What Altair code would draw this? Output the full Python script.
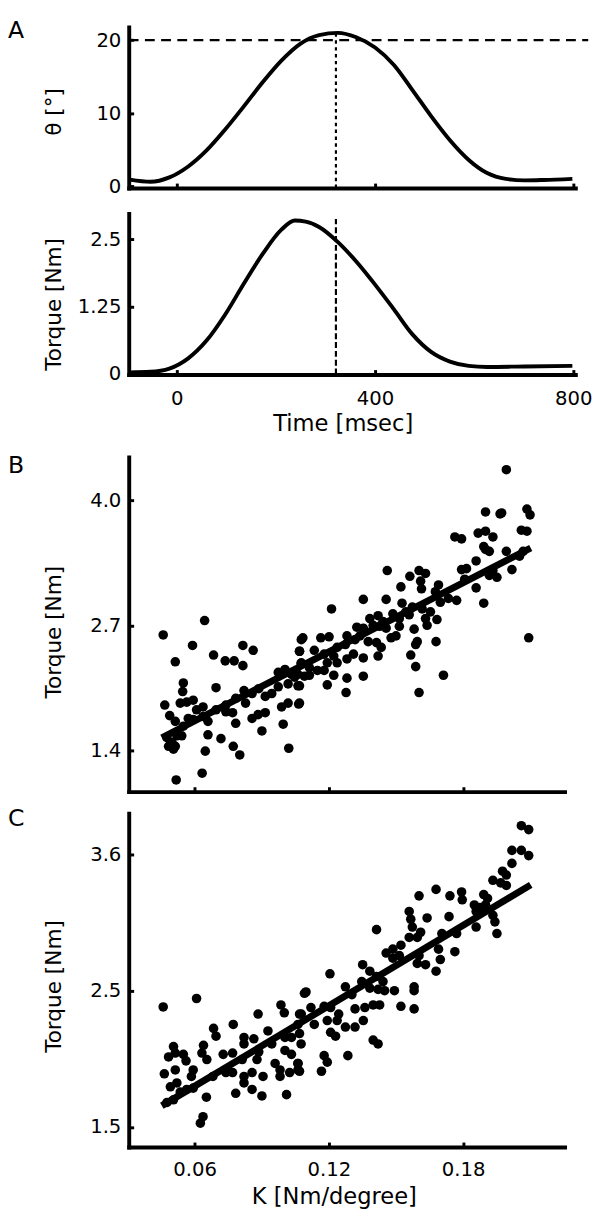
import altair as alt
import pandas as pd

FONT = "DejaVu Sans"
INWARD = {"expr": "-5"}

# ---------------- Panel A : joint angle and torque over time ----------------
theta_time = [-95, -53, -15, 23, 60, 98, 136, 174, 211, 249, 287, 325, 362, 400,
              438, 475, 513, 551, 589, 626, 664, 702, 740, 798]
theta_deg = [0.9, 0.6, 1.2, 2.7, 4.9, 7.8, 11.0, 14.3, 17.2, 19.5, 20.7, 21.0, 20.4, 19.0,
             16.6, 13.2, 9.6, 6.3, 3.6, 1.8, 1.0, 0.8, 0.85, 1.0]

torque_time = [-95, -53, -15, 23, 60, 98, 136, 174, 211, 238, 260, 287, 325, 362,
               400, 438, 475, 513, 551, 589, 626, 702, 798]
torque_nm = [0.03, 0.04, 0.10, 0.29, 0.62, 1.11, 1.69, 2.24, 2.68, 2.85, 2.83, 2.73, 2.45, 2.09,
             1.66, 1.20, 0.74, 0.41, 0.23, 0.15, 0.13, 0.14, 0.15]

target_angle = 20
target_span = [-97, 830]
event_time = 321
event_theta_span = [-0.25, 21.0]
event_torque_span = [-0.01, 2.88]

# ---------------- Panel B ----------------
b_k = [0.0460, 0.0645, 0.0591, 0.0514, 0.0685, 0.0737, 0.0777, 0.0816, 0.0816, 0.0862,
       0.0550, 0.0547, 0.0696, 0.0467, 0.0536, 0.0565, 0.0594, 0.0638, 0.0609, 0.0489,
       0.0514, 0.0572, 0.0660, 0.0477, 0.0499, 0.0521, 0.0543, 0.0506, 0.0484, 0.0514,
       0.0660, 0.0718, 0.0773, 0.0802, 0.0648, 0.0518, 0.0634, 0.0784, 0.0740, 0.0770,
       0.0821, 0.0828, 0.0857, 0.0884, 0.0916, 0.0901, 0.0996, 0.1021, 0.0857, 0.0887,
       0.0916, 0.0945, 0.0974, 0.0974, 0.1004, 0.1033, 0.0989, 0.1018, 0.1069, 0.1077,
       0.1069, 0.1077, 0.1062, 0.0638, 0.0696, 0.0740, 0.0784, 0.0594, 0.0550, 0.1018,
       0.1047,
       0.1763, 0.1793, 0.1461, 0.1562, 0.1603, 0.1632, 0.1610, 0.1522, 0.1614, 0.1690,
       0.1676, 0.1698, 0.1734, 0.1771, 0.1793, 0.1807, 0.1354, 0.1456, 0.1527, 0.1212,
       0.1573, 0.1617, 0.1654, 0.1559, 0.1383, 0.1420, 0.1442, 0.1486, 0.1515, 0.1544,
       0.1632, 0.1639, 0.1683, 0.1325, 0.1354, 0.1398, 0.1427, 0.1456, 0.1515, 0.1581,
       0.1281, 0.1317, 0.1339, 0.1376, 0.1413, 0.1434, 0.1478, 0.1500, 0.1595, 0.1588,
       0.1679, 0.1084, 0.1069, 0.1135, 0.1164, 0.1201, 0.1237, 0.1274, 0.1179, 0.1222,
       0.1310, 0.1354, 0.1420, 0.1566, 0.1588, 0.1076, 0.1113, 0.1149, 0.1193, 0.1237,
       0.1281, 0.1179, 0.1222, 0.1281, 0.1354, 0.1062, 0.1091, 0.1069, 0.1113, 0.1193,
       0.1277, 0.1603, 0.1712, 0.1065,
       0.1900, 0.1993, 0.1965, 0.1972, 0.2085, 0.2099, 0.1867, 0.1900, 0.1933, 0.2060,
       0.2085, 0.1892, 0.1900, 0.1917, 0.1993, 0.2052, 0.2068, 0.1858, 0.1933, 0.1951,
       0.1917, 0.2018, 0.1858, 0.1892, 0.2093, 0.1815]
b_tq = [2.60, 2.75, 2.49, 2.32, 2.39, 2.33, 2.33, 2.28, 2.49, 2.44,
        2.10, 2.01, 2.05, 1.87, 1.89, 1.90, 1.92, 1.85, 1.82, 1.76,
        1.70, 1.73, 1.70, 1.53, 1.48, 1.55, 1.55, 1.41, 1.44, 1.44,
        1.56, 1.52, 1.44, 1.35, 1.39, 1.09, 1.16, 1.68, 1.80, 1.79,
        2.02, 1.89, 1.73, 1.77, 1.79, 1.60, 1.67, 1.42, 1.99, 2.04,
        1.96, 1.99, 2.06, 2.21, 2.24, 2.19, 1.85, 1.89, 1.89, 2.55,
        2.43, 2.31, 2.07, 1.75, 1.82, 1.87, 1.94, 1.72, 1.65, 2.09,
        2.16,
        3.62, 3.60, 3.27, 3.21, 3.27, 3.24, 3.16, 3.10, 3.08, 3.12,
        3.05, 2.94, 2.98, 2.96, 3.28, 3.18, 2.97, 2.97, 2.93, 2.87,
        2.89, 2.87, 2.84, 2.81, 2.77, 2.80, 2.74, 2.82, 2.77, 2.84,
        2.77, 2.70, 2.76, 2.68, 2.67, 2.70, 2.69, 2.67, 2.69, 2.66,
        2.59, 2.55, 2.59, 2.53, 2.52, 2.47, 2.57, 2.59, 2.53, 2.50,
        2.53, 2.57, 2.43, 2.44, 2.57, 2.58, 2.47, 2.50, 2.40, 2.38,
        2.40, 2.36, 2.38, 2.39, 2.27, 2.30, 2.26, 2.23, 2.31, 2.31,
        2.35, 2.23, 2.18, 2.15, 2.17, 2.19, 2.17, 2.07, 2.18, 2.08,
        2.00, 2.00, 2.18, 1.88,
        3.88, 4.32, 3.86, 3.87, 3.91, 3.85, 3.66, 3.68, 3.62, 3.69,
        3.68, 3.52, 3.49, 3.47, 3.47, 3.42, 3.47, 3.37, 3.27, 3.20,
        3.22, 3.28, 3.09, 2.93, 2.57, 3.29]
b_fit_k = [0.0454, 0.2102]
b_fit_tq = [1.53, 3.505]

# ---------------- Panel C ----------------
c_k = [0.0460, 0.0609, 0.1091, 0.0986, 0.1001, 0.0884, 0.0773, 0.0685, 0.0696, 0.0640,
       0.0633, 0.0821, 0.0821, 0.0865, 0.0928, 0.0506, 0.0514, 0.0484, 0.0550, 0.0562,
       0.0465, 0.0514, 0.0492, 0.0521, 0.0594, 0.0586, 0.0655, 0.0728, 0.0770, 0.0740,
       0.0770, 0.0653, 0.0638, 0.0626, 0.0784, 0.0821, 0.0821, 0.0857, 0.0901, 0.0857,
       0.0906, 0.0879, 0.0960, 0.0982, 0.0982, 0.1011, 0.1004, 0.1033, 0.1062, 0.1025,
       0.1062, 0.1033, 0.1062, 0.1077, 0.0477, 0.0506, 0.0536, 0.0565, 0.0594, 0.0682,
       0.0740, 0.0813, 0.0887, 0.0945, 0.1004,
       0.1679, 0.1603, 0.1741, 0.1793, 0.1796, 0.1559, 0.1566, 0.1639, 0.1737, 0.1413,
       0.1573, 0.1610, 0.1559, 0.1595, 0.1705, 0.1771, 0.1763, 0.1690, 0.1698, 0.1679,
       0.1603, 0.1595, 0.1632, 0.1522, 0.1486, 0.1456, 0.1486, 0.1515, 0.1351, 0.1205,
       0.1383, 0.1413, 0.1442, 0.1274, 0.1303, 0.1347, 0.1383, 0.1420, 0.1449, 0.1493,
       0.1581, 0.1581, 0.1522, 0.1581, 0.1098, 0.1120, 0.1069, 0.1179, 0.1208, 0.1244,
       0.1317, 0.1361, 0.1135, 0.1193, 0.1237, 0.1317, 0.1354, 0.1398, 0.1427, 0.1069,
       0.1076, 0.1208, 0.1230, 0.1274, 0.1398, 0.1420, 0.1062, 0.1069, 0.1179, 0.1193,
       0.1167, 0.1285,
       0.2060, 0.2093, 0.2018, 0.2060, 0.2093, 0.2018, 0.1976, 0.1993, 0.1933, 0.1968,
       0.1993, 0.1892, 0.1909, 0.1850, 0.1875, 0.1900, 0.1858, 0.1883, 0.1933, 0.1942,
       0.1951, 0.1858]
c_tq = [2.425, 2.49, 2.53, 2.44, 2.38, 2.37, 2.29, 2.26, 2.20, 2.13,
        2.07, 2.19, 2.14, 2.18, 2.24, 2.12, 2.07, 2.04, 2.06, 2.01,
        1.91, 1.94, 1.81, 1.84, 1.94, 1.89, 2.02, 2.06, 2.07, 1.92,
        1.92, 1.73, 1.58, 1.53, 1.76, 1.89, 1.84, 1.79, 1.74, 1.92,
        1.89, 2.02, 1.99, 1.94, 1.89, 1.75, 2.09, 2.06, 1.99, 1.92,
        1.94, 2.19, 2.29, 2.37, 1.69, 1.71, 1.77, 1.79, 1.80, 1.89,
        1.94, 2.02, 2.08, 2.14, 2.19,
        3.33, 3.28, 3.28, 3.31, 3.25, 3.16, 3.10, 3.11, 3.12, 3.02,
        3.04, 3.00, 2.96, 2.96, 2.99, 2.99, 2.85, 2.87, 2.79, 2.70,
        2.82, 2.76, 2.75, 2.90, 2.87, 2.84, 2.80, 2.82, 2.75, 2.68,
        2.70, 2.66, 2.62, 2.58, 2.52, 2.62, 2.57, 2.56, 2.55, 2.55,
        2.58, 2.55, 2.43, 2.41, 2.54, 2.42, 2.37, 2.43, 2.42, 2.37,
        2.41, 2.42, 2.29, 2.32, 2.32, 2.27, 2.32, 2.44, 2.44, 2.22,
        2.14, 2.23, 2.20, 2.27, 2.17, 2.14, 1.99, 1.93, 2.05, 2.00,
        1.93, 2.05,
        3.82, 3.79, 3.63, 3.63, 3.59, 3.53, 3.47, 3.44, 3.40, 3.38,
        3.36, 3.29, 3.26, 3.21, 3.19, 3.21, 3.16, 3.18, 3.13, 3.08,
        2.99, 3.04]
c_fit_k = [0.0454, 0.2102]
c_fit_tq = [1.664, 3.365]

# ---------------- helpers ----------------
one_row = pd.DataFrame({"d": [0]})


def letter(ch, dy):
    return alt.Chart(one_row).mark_text(
        text=ch, align="left", baseline="top", font=FONT, fontSize=24, color="black"
    ).encode(x=alt.value(-123), y=alt.value(dy))


def spacer(h):
    return alt.Chart(one_row).mark_point(opacity=0).encode(
        x=alt.X("d:Q", axis=None), y=alt.Y("d:Q", axis=None)
    ).properties(width=10, height=h)


def y_axis(values, title, title_y, **kw):
    return alt.Axis(values=values, title=title, titleX=-64, titleY=title_y,
                    titleFontSize=22, labelPadding=13, tickSize=INWARD, **kw)


# ---------------- Panel A top ----------------
tscale = alt.Scale(domain=[-97, 804], nice=False, zero=False)
x_top = alt.X("t:Q", scale=tscale,
              axis=alt.Axis(values=[0, 400, 800], labels=False, title=None,
                            tickSize=INWARD))
y_top = alt.Y("v:Q", scale=alt.Scale(domain=[-0.25, 21.8], nice=False, zero=False),
              axis=y_axis([0, 10, 20], "θ [°]", 86, format="d"))

theta_df = pd.DataFrame({"t": theta_time, "v": theta_deg})
target_df = pd.DataFrame({"t": [target_span[0]], "t2": [target_span[1]], "v": [target_angle]})
ev_top_df = pd.DataFrame({"t": [event_time], "v": [event_theta_span[0]], "v2": [event_theta_span[1]]})

a_top = alt.layer(
    alt.Chart(target_df).mark_rule(color="black", strokeWidth=2.3, strokeDash=[10, 6.5]).encode(
        x=x_top, x2=alt.X2("t2"), y=y_top),
    alt.Chart(ev_top_df).mark_rule(color="black", strokeWidth=2.2, strokeDash=[3.5, 3.5]).encode(
        x=x_top, y=y_top, y2=alt.Y2("v2")),
    alt.Chart(theta_df).mark_line(color="black", strokeWidth=4, interpolate="monotone").encode(
        x=x_top, y=y_top),
    letter("A", -8),
).properties(width=455, height=164)

# ---------------- Panel A bottom ----------------
x_bot = alt.X("t:Q", scale=tscale,
              axis=alt.Axis(values=[0, 400, 800], format="d", title="Time [msec]",
                            titleX=218, titleY=38.6, titleBaseline="top", titleFontSize=23,
                            labelPadding=20, tickSize=INWARD))
y_bot = alt.Y("v:Q", scale=alt.Scale(domain=[-0.01, 2.98], nice=False, zero=False),
              axis=y_axis([0, 1.25, 2.5], "Torque [Nm]", 92,
                          labelExpr="format(datum.value, '~g')"))

torque_df = pd.DataFrame({"t": torque_time, "v": torque_nm})
ev_bot_df = pd.DataFrame({"t": [event_time], "v": [event_torque_span[0]], "v2": [event_torque_span[1]]})

a_bot = alt.layer(
    alt.Chart(ev_bot_df).mark_rule(color="black", strokeWidth=2.2, strokeDash=[6, 3]).encode(
        x=x_bot, y=y_bot, y2=alt.Y2("v2")),
    alt.Chart(torque_df).mark_line(color="black", strokeWidth=4, interpolate="monotone").encode(
        x=x_bot, y=y_bot),
).properties(width=455, height=164)

# ---------------- Panel B ----------------
kscale = alt.Scale(domain=[0.0306, 0.2253], nice=False, zero=False)
x_b = alt.X("k:Q", scale=kscale,
            axis=alt.Axis(values=[0.06, 0.12, 0.18], labels=False, title=None,
                          tickSize=INWARD))
y_b = alt.Y("tq:Q", scale=alt.Scale(domain=[0.968, 4.453], nice=False, zero=False),
            axis=y_axis([1.4, 2.7, 4.0], "Torque [Nm]", 178, format=".1f"))

b_df = pd.DataFrame({"k": b_k, "tq": b_tq})
b_fit = pd.DataFrame({"k": b_fit_k, "tq": b_fit_tq})

panel_b = alt.layer(
    alt.Chart(b_df).mark_circle(size=95, color="black", opacity=1).encode(x=x_b, y=y_b),
    alt.Chart(b_fit).mark_line(color="black", strokeWidth=7, strokeCap="butt").encode(x=x_b, y=y_b),
    letter("B", -3),
).properties(width=444, height=341)

# ---------------- Panel C ----------------
x_c = alt.X("k:Q", scale=kscale,
            axis=alt.Axis(values=[0.06, 0.12, 0.18], format=".2f", title="K [Nm/degree]",
                          titleX=209, titleY=39.8, titleBaseline="top", titleFontSize=23,
                          labelPadding=17.8, tickSize=INWARD))
y_c = alt.Y("tq:Q", scale=alt.Scale(domain=[1.347, 3.916], nice=False, zero=False),
            axis=y_axis([1.5, 2.55, 3.6], "Torque [Nm]", 176,
                        labelExpr="datum.value > 2 && datum.value < 3 ? '2.5' : format(datum.value, '.1f')"))

c_df = pd.DataFrame({"k": c_k, "tq": c_tq})
c_fit = pd.DataFrame({"k": c_fit_k, "tq": c_fit_tq})

panel_c = alt.layer(
    alt.Chart(c_df).mark_circle(size=95, color="black", opacity=1).encode(x=x_c, y=y_c),
    alt.Chart(c_fit).mark_line(color="black", strokeWidth=7, strokeCap="butt").encode(x=x_c, y=y_c),
    letter("C", -6),
).properties(width=444, height=340)

chart = alt.vconcat(
    a_top, spacer(26), a_bot, spacer(84), panel_b, spacer(22), panel_c,
    spacing=0, bounds="flush",
).properties(padding=0).configure_view(stroke=None).configure_axis(
    grid=False, domainColor="black", domainWidth=4, domainCap="square",
    tickColor="black", tickWidth=3, labelFont=FONT, labelFontSize=20, labelColor="black",
    labelFlush=False, labelOverlap=False,
    titleFont=FONT, titleFontWeight="normal", titleColor="black",
)

chart.save("out.html", embed_options={"renderer": "svg", "actions": False})
